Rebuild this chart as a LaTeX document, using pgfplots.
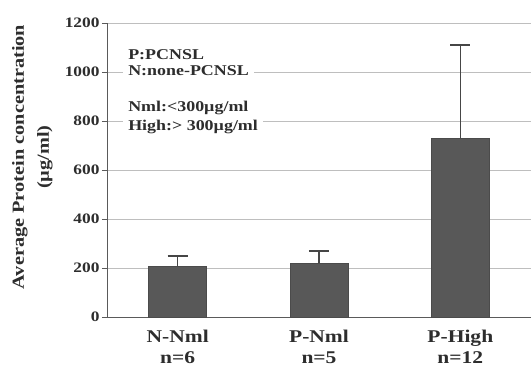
\documentclass[border=0pt]{standalone}
\usepackage{pgfplots}
\pgfplotsset{compat=1.18}
\usepackage{fontspec}
\setmainfont{Liberation Serif}[FakeStretch=1.2]
\definecolor{barcol}{RGB}{88,88,88}
\definecolor{txtcol}{RGB}{45,45,45}
\definecolor{gridcol}{RGB}{190,190,190}
\definecolor{axcol}{RGB}{90,90,90}
\begin{document}
\begin{tikzpicture}
\begin{axis}[
  width=424bp, height=294bp, scale only axis,
  xmin=-0.5, xmax=2.5, ymin=0, ymax=1200,
  ytick={0,200,...,1200},
  xtick=data,
  xticklabels={{N-Nml\\n=6},{P-Nml\\n=5},{P-High\\n=12}},
  axis x line*=bottom, axis y line*=left,
  axis line style={axcol, line width=0.8pt},
  ymajorgrids, grid style={gridcol, line width=0.7pt},
  tick align=outside, major tick length=5bp,
  ytick style={axcol, line width=0.7pt},
  xtick style={draw=none},
  /pgf/number format/assume math mode=true,
  /pgf/number format/1000 sep={},
  yticklabel style={font=\fontsize{14.5}{16}\selectfont\bfseries, text=txtcol, xshift=1bp},
  xticklabel style={font=\fontsize{18}{21}\selectfont\bfseries, text=txtcol, align=center, yshift=-5bp},
  ylabel={Average Protein concentration\\(\textmu g/ml)},
  ylabel style={font=\fontsize{17}{25}\selectfont\bfseries, text=txtcol, align=center,
    at={(axis description cs:-0.224,0.544)}, anchor=north, inner sep=0pt},
]
\addplot[ybar, bar width=58bp, fill=barcol, draw=barcol!85!black,
  error bars/.cd, y dir=plus, y explicit,
  error bar style={line width=1.6pt, color=barcol!80!black},
  error mark options={rotate=90, mark size=10bp, line width=1.6pt, color=barcol!80!black}]
  coordinates {(0,208) +- (0,41) (1,220) +- (0,49) (2,730) +- (0,380)};
\tikzset{lg/.style={anchor=base west, fill=white, inner xsep=5bp, inner ysep=1bp, xshift=-5bp,
  font=\fontsize{15}{17}\selectfont\bfseries, text=txtcol}}
\node[lg] at (axis cs:-0.351,1049) {P:PCNSL};
\node[lg] at (axis cs:-0.351,984) {N:none-PCNSL};
\node[lg] at (axis cs:-0.351,837) {Nml:<300\textmu g/ml};
\node[lg] at (axis cs:-0.351,763) {High:> 300\textmu g/ml};
\end{axis}
\pgfresetboundingbox
\path[use as bounding box] ([xshift=-107bp,yshift=-50bp]current axis.south west) rectangle ([yshift=23bp]current axis.north east);
\end{tikzpicture}
\end{document}
